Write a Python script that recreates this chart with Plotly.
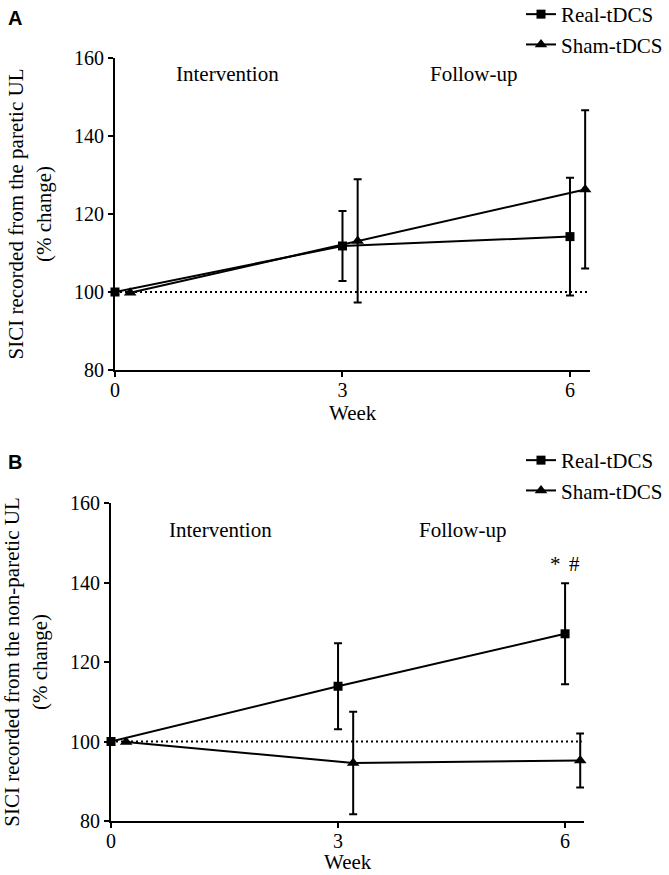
import plotly.graph_objects as go

# ---------------- data ----------------
weeks = [0, 3, 6]
sham_offset = 0.2  # horizontal dodge of the sham series

A_real_mean = [100.0, 111.8, 114.2]
A_real_err = [0.0, 9.0, 15.1]
A_sham_mean = [99.8, 113.1, 126.3]
A_sham_err = [0.0, 15.8, 20.3]

B_real_mean = [100.0, 113.9, 127.1]
B_real_err = [0.0, 10.8, 12.7]
B_sham_mean = [99.9, 94.6, 95.2]
B_sham_err = [0.0, 12.9, 6.8]

series_names = ["Real-tDCS", "Sham-tDCS"]
y_ticks = [80, 100, 120, 140, 160]
x_ticks = [0, 3, 6]
x_ticklabels = ["0", "3", "6"]
title_A = "SICI recorded from the paretic UL<br>(% change)"
title_B = "SICI recorded from the non-paretic UL<br>(% change)"
phase_labels = ["Intervention", "Follow-up"]

# ---------------- figure ----------------
W, H = 669, 875
SERIF = "Liberation Serif, Times New Roman, serif"
FS_TICK = 20
FS = 21

def px(p):
    return p / W

def py(p):
    return 1 - p / H

fig = go.Figure()

def add_series(mean, err, xs, symbol, size, name, xa, ya, legend):
    fig.add_trace(go.Scatter(
        x=xs, y=mean, mode="lines+markers", name=name,
        line=dict(color="black", width=2),
        marker=dict(symbol=symbol, size=size, color="black"),
        error_y=dict(type="data", array=err, visible=True, color="black",
                     thickness=2, width=4),
        xaxis=xa, yaxis=ya, legend=legend, showlegend=True, cliponaxis=False,
    ))

sham_x = [w + sham_offset for w in weeks]

add_series(A_real_mean, A_real_err, weeks, "square", 9, series_names[0], "x", "y", "legend")
add_series(A_sham_mean, A_sham_err, sham_x, "triangle-up", 11, series_names[1], "x", "y", "legend")
add_series(B_real_mean, B_real_err, weeks, "square", 9, series_names[0], "x2", "y2", "legend2")
add_series(B_sham_mean, B_sham_err, sham_x, "triangle-up", 11, series_names[1], "x2", "y2", "legend2")

axis_style = dict(
    showline=True, linecolor="black", linewidth=2,
    ticks="outside", ticklen=5, tickwidth=2, tickcolor="black",
    showgrid=False, zeroline=False,
    tickfont=dict(family=SERIF, size=FS_TICK, color="black"),
)

legend_style = dict(xanchor="left", yanchor="top", bgcolor="rgba(0,0,0,0)",
                    tracegroupgap=0, borderwidth=0,
                    font=dict(family=SERIF, size=FS, color="black"))

fig.update_layout(
    width=W, height=H,
    margin=dict(l=0, r=0, t=0, b=0, autoexpand=False),
    paper_bgcolor="white", plot_bgcolor="white",
    font=dict(family=SERIF, size=FS, color="black"),
    xaxis=dict(domain=[px(115), px(590)], range=[0, 6.264], tickvals=x_ticks,
               ticktext=x_ticklabels, anchor="y", ticklabelstandoff=-4, **axis_style),
    yaxis=dict(domain=[py(370), py(58)], range=[80, 160], tickvals=y_ticks,
               anchor="x",
               title=dict(text=title_A, standoff=17,
                          font=dict(family=SERIF, size=FS, color="black")),
               **axis_style),
    xaxis2=dict(domain=[px(111), px(584)], range=[0, 6.25], tickvals=x_ticks,
                ticktext=x_ticklabels, anchor="y2", ticklabelstandoff=-4, **axis_style),
    yaxis2=dict(domain=[py(821), py(503)], range=[80, 160], tickvals=y_ticks,
                anchor="x2",
                title=dict(text=title_B, standoff=17,
                           font=dict(family=SERIF, size=FS, color="black")),
                **axis_style),
    legend=dict(x=px(521), y=1 + 6 / H, **legend_style),
    legend2=dict(x=px(521), y=py(440), **legend_style),
    showlegend=True,
)

# dotted reference lines at 100 %
for xr, yr, xend in [("x", "y", 6.23), ("x2", "y2", 6.22)]:
    fig.add_shape(type="line", xref=xr, yref=yr, x0=0, x1=xend, y0=100, y1=100,
                  line=dict(color="black", width=2, dash="2px,3px"))

ann = []
# phase labels
for xr, yr, xs, yv in [("x", "y", [1.49, 4.73], 155.8), ("x2", "y2", [1.45, 4.65], 153.2)]:
    for lab, xv in zip(phase_labels, xs):
        ann.append(dict(text=lab, x=xv, y=yv, xref=xr, yref=yr, showarrow=False,
                        xanchor="center", yanchor="middle",
                        font=dict(family=SERIF, size=FS)))
# significance markers
ann.append(dict(text="*", x=5.87, y=144.7, xref="x2", yref="y2", showarrow=False,
                xanchor="center", yanchor="middle", font=dict(family=SERIF, size=FS)))
ann.append(dict(text="#", x=6.13, y=144.7, xref="x2", yref="y2", showarrow=False,
                xanchor="center", yanchor="middle", font=dict(family=SERIF, size=FS)))
# x-axis titles (centred on each axis line)
ann.append(dict(text="Week", x=px((115 + 590) / 2), y=py(413), xref="paper", yref="paper",
                xanchor="center", yanchor="middle", height=20,
                showarrow=False, font=dict(family=SERIF, size=FS)))
ann.append(dict(text="Week", x=px((111 + 584) / 2), y=py(862), xref="paper", yref="paper",
                xanchor="center", yanchor="middle", height=20,
                showarrow=False, font=dict(family=SERIF, size=FS)))
# panel letters
ann.append(dict(text="<b>A</b>", x=px(15), y=py(18), xref="paper", yref="paper",
                xanchor="center", yanchor="middle",
                showarrow=False, font=dict(family="Liberation Sans, Arial, sans-serif", size=20)))
ann.append(dict(text="<b>B</b>", x=px(15), y=py(462), xref="paper", yref="paper",
                xanchor="center", yanchor="middle",
                showarrow=False, font=dict(family="Liberation Sans, Arial, sans-serif", size=20)))

fig.update_layout(annotations=ann)

fig.write_html(
    "out.html",
    config={"displayModeBar": False},
    post_script="document.body.style.margin='0';document.body.style.padding='0';"
                "document.documentElement.style.overflow='hidden';",
)
